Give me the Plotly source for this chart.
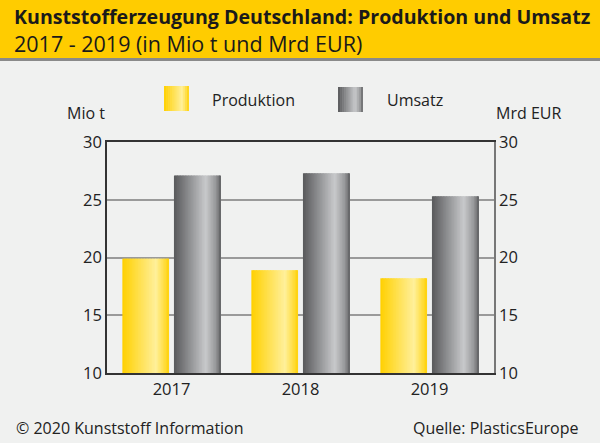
import plotly.graph_objects as go

years = ["2017", "2018", "2019"]
produktion = [19.9, 18.9, 18.2]   # Mio t
umsatz = [27.1, 27.3, 25.3]       # Mrd EUR
y_ticks = [10, 15, 20, 25, 30]

FONT = "Open Sans"
TXT = "#222222"

# Farbverlauf (Position 0..1 ueber die Balkenbreite)
gelb = [(0.0, (255, 208, 0)), (0.72, (255, 240, 155)), (1.0, (255, 210, 10))]
grau = [(0.0, (88, 89, 91)), (0.68, (200, 201, 203)), (0.9, (150, 151, 153)), (1.0, (95, 96, 98))]


def farbe(stops, t):
    for (p0, c0), (p1, c1) in zip(stops, stops[1:]):
        if p0 <= t <= p1:
            f = (t - p0) / (p1 - p0)
            c = [round(a + (b - a) * f) for a, b in zip(c0, c1)]
            return "rgb(%d,%d,%d)" % tuple(c)
    return "rgb(%d,%d,%d)" % stops[-1][1]


fig = go.Figure()

N = 30
bw = 0.362
xs = list(range(len(years)))


def strips(vals, start, stops, yaxis):
    sw = bw / N
    for i in range(N):
        t = (i + 0.5) / N
        fig.add_trace(go.Bar(
            x=xs, y=vals, offset=start + i * sw,
            width=sw * (1.6 if i < N - 1 else 1.0),
            marker=dict(color=farbe(stops, t), line_width=0),
            yaxis=yaxis, showlegend=False, hoverinfo="skip"))


strips(produktion, -0.381, gelb, "y")
strips(umsatz, 0.019, grau, "y2")

L, R, T, B = 107, 106, 142, 70
H = 443 - T - B
W = 600 - L - R


def px_x(p):
    return (p - L) / W


def px_y(p):
    return (443 - B - p) / H


shapes = [
    dict(type="rect", xref="paper", yref="paper", x0=px_x(0), x1=px_x(600), y0=px_y(58), y1=px_y(0),
         fillcolor="#ffcc00", line_width=0),
    dict(type="line", xref="paper", yref="paper", x0=px_x(0), x1=px_x(600), y0=px_y(59.5), y1=px_y(59.5),
         line=dict(color="#8a8a8a", width=3)),
]


# Legendenfelder mit Verlauf
def swatch(x0, y0, stops):
    n = 12
    for i in range(n):
        t = (i + 0.5) / n
        shapes.append(dict(type="rect", xref="paper", yref="paper",
                           x0=px_x(x0 + i * 25 / n), x1=px_x(x0 + (i + 1.3) * 25 / n if i < n - 1 else x0 + 25),
                           y0=px_y(y0 + 25), y1=px_y(y0),
                           fillcolor=farbe(stops, t), line_width=0))


swatch(164, 86, gelb)
swatch(338, 87, grau)

fig.update_layout(
    width=600, height=443,
    margin=dict(l=L, r=R, t=T, b=B),
    paper_bgcolor="#f0f1f0", plot_bgcolor="#f0f1f0",
    barmode="overlay",
    showlegend=False,
    font=dict(family=FONT, size=16, color=TXT),
    shapes=shapes,
    xaxis=dict(tickmode="array", tickvals=xs, ticktext=years, range=[-0.5, 2.5],
               showgrid=False, ticks="", showline=True, linecolor="#333333", linewidth=1.5,
               tickfont=dict(size=16.5, color=TXT)),
    yaxis=dict(range=[10, 30], tickvals=y_ticks, showgrid=True, gridcolor="#9a9a9a",
               gridwidth=1.5, zeroline=False, showline=True, linecolor="#333333", linewidth=1.5,
               ticks="", tickfont=dict(size=16.5, color=TXT)),
    yaxis2=dict(range=[10, 30], tickvals=y_ticks, overlaying="y", side="right",
                showgrid=False, zeroline=False, showline=True, linecolor="#777777", linewidth=1.5,
                ticks="", tickfont=dict(size=16.5, color=TXT)),
    xaxis2=dict(overlaying="x", side="top", range=[0, 1], showline=True, linecolor="#333333",
                linewidth=1.5, showticklabels=False, showgrid=False, zeroline=False, ticks=""),
)

# leere Spur, damit die obere Achsenlinie erscheint
fig.add_trace(go.Scatter(x=[], y=[], xaxis="x2", showlegend=False))

ann = [
    dict(text="<b>Kunststofferzeugung Deutschland: Produktion und Umsatz</b>", x=px_x(12), y=px_y(16),
         xanchor="left", yanchor="middle", font=dict(size=19.6, color="#1a1a1a")),
    dict(text="2017 - 2019 (in Mio t und Mrd EUR)", x=px_x(12), y=px_y(44),
         xanchor="left", yanchor="middle", font=dict(size=21.5, color="#1a1a1a")),
    dict(text="Produktion", x=px_x(210), y=px_y(100), xanchor="left", yanchor="middle"),
    dict(text="Umsatz", x=px_x(385), y=px_y(100), xanchor="left", yanchor="middle"),
    dict(text="Mio t", x=px_x(65), y=px_y(113), xanchor="left", yanchor="middle"),
    dict(text="Mrd EUR", x=px_x(494), y=px_y(113), xanchor="left", yanchor="middle"),
    dict(text="© 2020 Kunststoff Information", x=px_x(14), y=px_y(428), xanchor="left", yanchor="middle"),
    dict(text="Quelle: PlasticsEurope", x=px_x(581), y=px_y(428), xanchor="right", yanchor="middle"),
]
for a in ann:
    a.update(xref="paper", yref="paper", showarrow=False)
    a.setdefault("font", dict(size=16, color=TXT))
fig.update_layout(annotations=ann)

fig.write_html("out.html", config={"displayModeBar": False},
               post_script="document.body.style.margin='0';")
